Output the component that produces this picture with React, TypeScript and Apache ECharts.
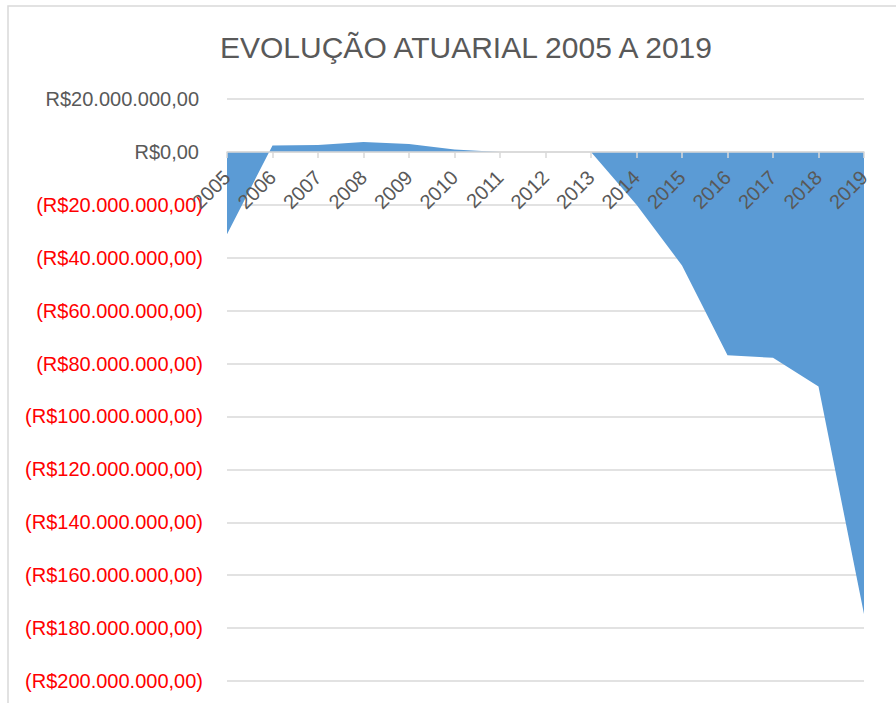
import React, { useEffect, useRef } from "react";
import * as echarts from "echarts";

const categories = ["2005", "2006", "2007", "2008", "2009", "2010", "2011", "2012", "2013", "2014", "2015", "2016", "2017", "2018", "2019"];
const values = [-31100000, 2400000, 2600000, 3700000, 2950000, 950000, 0, 0, 0, -20000000, -42900000, -76900000, -77800000, -88700000, -174700000];
const titleText = "EVOLUÇÃO ATUARIAL 2005 A 2019";
const yMin = -200000000;
const yMax = 20000000;
const yInterval = 20000000;

function fmtMoney(v: number): string {
  const abs = Math.abs(Math.round(v));
  const s = abs.toString().replace(/\B(?=(\d{3})+(?!\d))/g, ".");
  return "R$" + s + ",00";
}

export default function App() {
  const ref = useRef<HTMLDivElement>(null);
  useEffect(() => {
    if (!ref.current) return;
    const chart = echarts.init(ref.current, undefined, { renderer: "svg" });
    const font = "'Liberation Sans', Arial, sans-serif";
    const gridTop = 99;
    const gridBottom = 22;
    const plotH = 703 - gridTop - gridBottom;
    const zeroFromBottom = plotH * (0 - yMin) / (yMax - yMin);
    chart.setOption({
      animation: false,
      backgroundColor: "#ffffff",
      title: {
        text: titleText,
        left: 215,
        top: 27,
        textStyle: { fontFamily: font, fontSize: 30, fontWeight: "normal", color: "#595959" },
      },
      graphic: [
        {
          type: "rect",
          shape: { x: 8, y: 6, width: 1000, height: 1000 },
          style: { fill: "none", stroke: "#D9D9D9", lineWidth: 1.5 },
          silent: true,
        },
      ],
      grid: { left: 227, right: 32, top: gridTop, bottom: gridBottom, containLabel: false, outerBoundsMode: "none" },
      xAxis: {
        type: "category",
        data: categories,
        boundaryGap: false,
        position: "bottom",
        offset: -zeroFromBottom,
        z: 10,
        axisLine: { onZero: false, lineStyle: { color: "#D9D9D9", width: 1.5 } },
        axisTick: { show: true, interval: 0, length: 6, lineStyle: { color: "#D9D9D9", width: 1.5 } },
        axisLabel: {
          interval: 0,
          rotate: 45,
          margin: 22,
          fontFamily: font,
          fontSize: 20,
          color: "#595959",
        },
        splitLine: { show: false },
      },
      yAxis: {
        type: "value",
        min: yMin,
        max: yMax,
        interval: yInterval,
        axisLine: { show: false },
        axisTick: { show: false },
        splitLine: { lineStyle: { color: "#D9D9D9", width: 1.5 } },
        axisLabel: {
          margin: 24,
          fontFamily: font,
          fontSize: 20,
          formatter: (v: number) => (v < 0 ? "{neg|(" + fmtMoney(v) + ")}" : "{pos|" + fmtMoney(v) + "}"),
          rich: {
            neg: { color: "#FF0000", fontFamily: font, fontSize: 20 },
            pos: { color: "#595959", fontFamily: font, fontSize: 20, padding: [0, 4, 0, 0] },
          },
        },
      },
      series: [
        {
          type: "line",
          data: values,
          showSymbol: false,
          symbol: "none",
          lineStyle: { width: 0, color: "#5B9BD5" },
          itemStyle: { color: "#5B9BD5" },
          areaStyle: { color: "#5B9BD5", opacity: 1 },
          z: 2,
        },
      ],
    });
    return () => chart.dispose();
  }, []);
  return <div ref={ref} style={{ position: "fixed", left: 0, top: 0, width: 896, height: 703 }} />;
}
